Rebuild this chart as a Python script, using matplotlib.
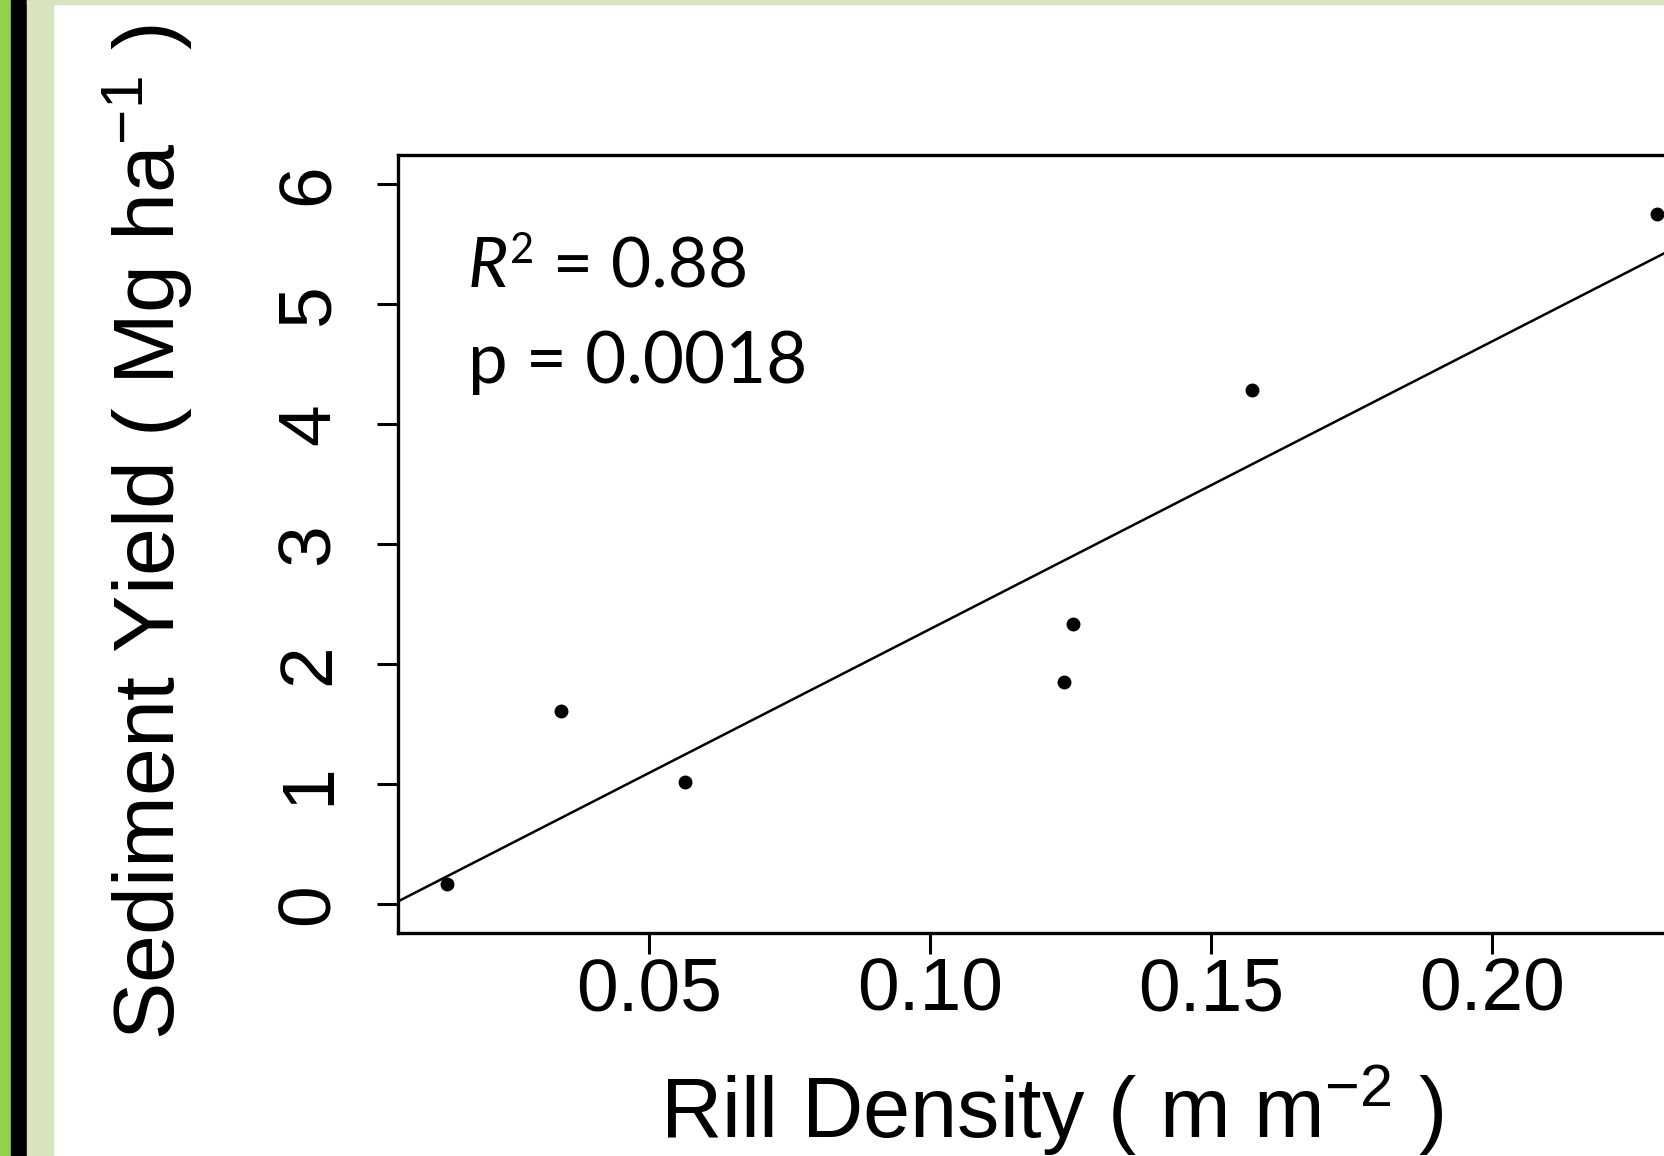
import numpy as np
import matplotlib
matplotlib.use("Agg")
from matplotlib import pyplot as plt
from matplotlib.patches import Rectangle
from matplotlib.transforms import IdentityTransform

# rill density (m m^-2) vs sediment yield (Mg ha^-1)
rill_density = [0.014, 0.0343, 0.0564, 0.1238, 0.1254, 0.1573, 0.2293]
sediment_yield = [0.17, 1.61, 1.02, 1.85, 2.33, 4.28, 5.75]
x_ticks = [0.05, 0.10, 0.15, 0.20]
y_ticks = [0, 1, 2, 3, 4, 5, 6]
r2_text = "0.88"
p_text = "0.0018"

plt.rcParams["font.family"] = ["Liberation Sans", "DejaVu Sans"]
plt.rcParams["mathtext.fontset"] = "custom"
plt.rcParams["mathtext.rm"] = "Liberation Sans"
plt.rcParams["mathtext.it"] = "Liberation Sans:italic"

W, H = 1665, 1156
fig = plt.figure(figsize=(W / 100, H / 100), dpi=100, facecolor="white")

# slide decoration on the left / top edge
fig.patches.append(Rectangle((0, 0), 11 / W, 1, transform=fig.transFigure, color="#92d050", zorder=0))
fig.patches.append(Rectangle((11 / W, 0), 16 / W, 1, transform=fig.transFigure, color="black", zorder=0))
fig.patches.append(Rectangle((27 / W, 0), 26 / W, 1, transform=fig.transFigure, color="#d7e4bd", zorder=0))
fig.patches.append(Rectangle((27 / W, 1 - 4 / H), 1, 4 / H, transform=fig.transFigure, color="#d7e4bd", zorder=0))

# plot region runs past the right edge, like the cropped original
ax = fig.add_axes([398 / W, 223 / H, 1308 / W, 778 / H])
ax.set_xlim(0.0053, 0.2381)
ax.set_ylim(-0.24, 6.24)

ax.plot(rill_density, sediment_yield, "o", color="black", markersize=9, zorder=3)

slope, intercept = np.polyfit(rill_density, sediment_yield, 1)
ax.axline((0, intercept), slope=slope, color="black", linewidth=1.8)

for side in ["top", "bottom", "left", "right"]:
    ax.spines[side].set_linewidth(2.4)

ax.set_xticks(x_ticks)
ax.set_xticklabels([f"{v:.2f}" for v in x_ticks])
ax.set_yticks(y_ticks)
ax.set_yticklabels([str(v) for v in y_ticks])
ax.tick_params(axis="both", length=15, width=2.2, labelsize=54, direction="out")
ax.tick_params(axis="x", pad=2)
ax.tick_params(axis="y", pad=24, labelrotation=90)
for lab in ax.get_yticklabels():
    lab.set_verticalalignment("center")

ax.set_xlabel("Rill Density ( m m$^{-2}$ )", fontsize=61)
ax.xaxis.set_label_coords(0.5, -0.166)
ax.set_ylabel("Sediment Yield ( Mg ha$^{-1}$ )", fontsize=62)
ax.yaxis.set_label_coords(-0.155, 0.516)

# R^2 line: italic R, raised 2, then the value
fig.canvas.draw()
renderer = fig.canvas.get_renderer()
x0, base = ax.transAxes.transform((0.0535, 0.830))
t_r = ax.text(x0, base, "R", transform=IdentityTransform(), family="Lato", style="italic",
              fontsize=50, va="baseline")
bb = t_r.get_window_extent(renderer)
t_sup = ax.text(bb.x1 + 2, base + 24, "2", transform=IdentityTransform(), family="Lato",
                fontsize=30, va="baseline")
bb2 = t_sup.get_window_extent(renderer)
ax.text(bb2.x1, base, " = " + r2_text, transform=IdentityTransform(), family="Lato",
        fontsize=50, va="baseline")
ax.text(0.0535, 0.707, "p = " + p_text, transform=ax.transAxes, family="Lato",
        fontsize=51, va="baseline")

plt.savefig("out.png", dpi=100, facecolor=fig.get_facecolor())
